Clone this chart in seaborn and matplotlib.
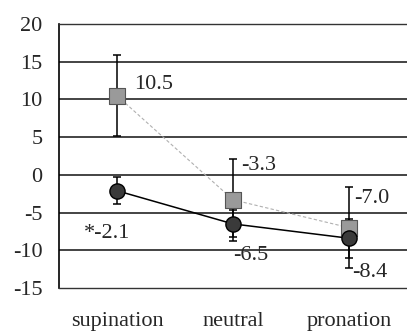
import matplotlib
matplotlib.use("Agg")
import matplotlib.pyplot as plt
import seaborn as sns
import pandas as pd

categories = ["supination", "neutral", "pronation"]
gray_values = [10.5, -3.3, -7.0]
gray_err = [5.4, 5.4, 5.4]
black_values = [-2.1, -6.5, -8.4]
black_err = [1.8, 1.8, 2.6]
gray_labels = ["10.5", "-3.3", "-7.0"]
black_labels = ["*-2.1", "-6.5", "-8.4"]
yticks = [-15, -10, -5, 0, 5, 10, 15, 20]

sns.set_style("white")
plt.rcParams["font.family"] = ["Liberation Serif", "DejaVu Serif"]

df = pd.DataFrame({
    "pos": [0.5, 1.5, 2.5] * 2,
    "value": gray_values + black_values,
    "err": gray_err + black_err,
    "series": ["gray"] * 3 + ["black"] * 3,
})

fig = plt.figure(figsize=(4.07, 3.32), dpi=100)
ax = fig.add_axes([0.145, 0.1325, 0.855, 0.795])

for s, color, ls, lw in [("gray", "#b0b0b0", (0, (3, 2)), 0.8), ("black", "black", "-", 1.1)]:
    sub = df[df.series == s]
    ax.errorbar(sub.pos, sub.value, yerr=sub.err, fmt="none", ecolor="black",
                elinewidth=1.1, capsize=3, capthick=1.1, zorder=3)
    sns.lineplot(data=sub, x="pos", y="value", ax=ax, color=color,
                 linestyle=ls, linewidth=lw, zorder=4, legend=False)

gs = df[df.series == "gray"]
bs = df[df.series == "black"]
sns.scatterplot(data=gs, x="pos", y="value", ax=ax, marker="s", s=135,
                color="#9a9a9a", edgecolor="#555555", linewidth=0.8, zorder=5, legend=False)
sns.scatterplot(data=bs, x="pos", y="value", ax=ax, marker="o", s=120,
                color="#3a3a3a", edgecolor="black", linewidth=1.0, zorder=6, legend=False)

fs = 16
gray_off = [(12, 8), (6, 25), (4, 21)]
black_off = [(-24, -31), (0, -23), (2, -25)]
for x, v, t, o in zip(gs.pos, gs.value, gray_labels, gray_off):
    ax.annotate(t, (x, v), xytext=o, textcoords="offset points", fontsize=fs,
                va="center", ha="left", zorder=7)
for x, v, t, o in zip(bs.pos, bs.value, black_labels, black_off):
    ax.annotate(t, (x, v), xytext=o, textcoords="offset points", fontsize=fs,
                va="center", ha="left", zorder=7)

ax.set_xlim(0, 3)
ax.set_ylim(-15, 20)
ax.set_yticks(yticks)
ax.set_yticklabels([str(t) for t in yticks], fontsize=fs)
ax.set_xticks([0.5, 1.5, 2.5])
ax.set_xticklabels(categories, fontsize=fs)
ax.tick_params(axis="y", length=0, pad=12)
ax.tick_params(axis="x", length=0, pad=17)
ax.set_xlabel("")
ax.set_ylabel("")

for y in [-10, -5, 0, 5, 10, 15]:
    ax.axhline(y, color="#111111", linewidth=1.1, linestyle="-", zorder=1)

ax.spines["right"].set_visible(False)
ax.spines["left"].set_color("black")
ax.spines["left"].set_linewidth(1.2)
for sp in ["top", "bottom"]:
    ax.spines[sp].set_color("#333333")
    ax.spines[sp].set_linewidth(1.0)
    ax.spines[sp].set_linestyle((0, (1, 1)))

fig.savefig("out.png", dpi=100)
